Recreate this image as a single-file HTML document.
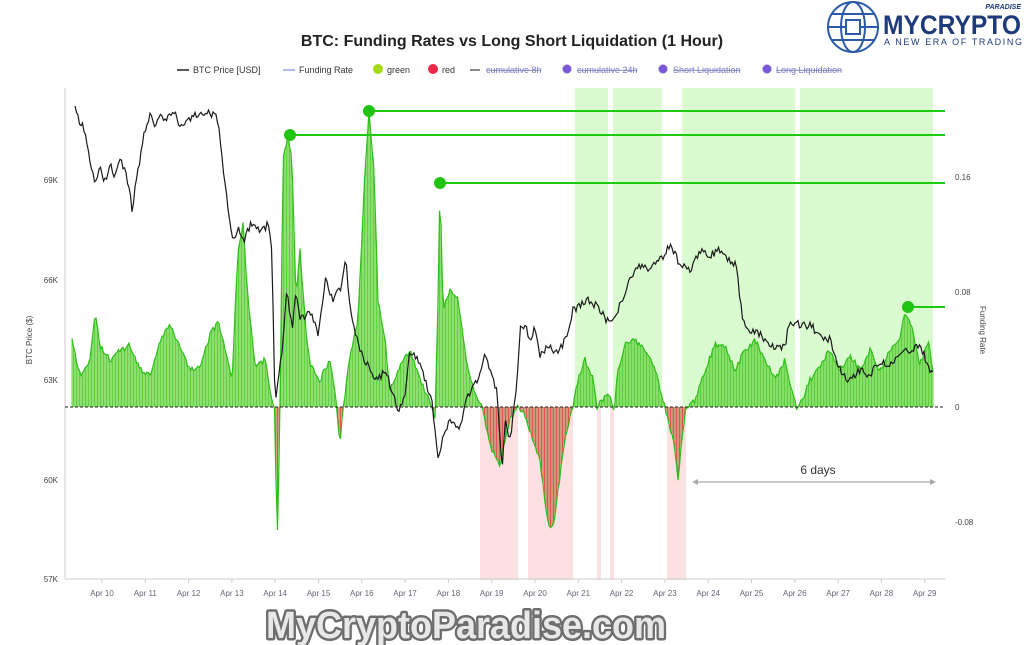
<!DOCTYPE html>
<html><head><meta charset="utf-8"><style>
html,body{margin:0;padding:0;background:#fff;width:1024px;height:645px;overflow:hidden}
svg{display:block;font-family:"Liberation Sans",Arial,sans-serif}
</style></head><body>
<svg id="s" width="1024" height="645" viewBox="0 0 1024 645" xmlns="http://www.w3.org/2000/svg">
<rect width="1024" height="645" fill="#fff"/>
<g id="shade">
<rect x="575" y="88" width="33" height="319" fill="#d9fbcf"/>
<rect x="613" y="88" width="49" height="319" fill="#d9fbcf"/>
<rect x="682" y="88" width="113" height="319" fill="#d9fbcf"/>
<rect x="800" y="88" width="133" height="319" fill="#d9fbcf"/>
<rect x="480" y="407" width="38" height="173" fill="#fde0e2"/>
<rect x="528" y="407" width="45" height="173" fill="#fde0e2"/>
<rect x="597" y="407" width="4" height="173" fill="#fde0e2"/>
<rect x="610" y="407" width="4" height="173" fill="#fde0e2"/>
<rect x="667" y="407" width="19" height="173" fill="#fde0e2"/>
</g>
<line x1="65" y1="88" x2="65" y2="579" stroke="#ccc" stroke-width="1"/>
<line x1="65" y1="579" x2="945" y2="579" stroke="#ccc" stroke-width="1"/>
<g id="bars"></g>
<path id="fr" fill="none" stroke="#2fbf1a" stroke-width="1.2"/>
<line x1="65" y1="407" x2="945" y2="407" stroke="#222" stroke-width="1" stroke-dasharray="3,2"/>
<path id="pr" fill="none" stroke="#1a1a1a" stroke-width="1.2"/>
<g stroke="#1ecb12" stroke-width="2">
<line x1="290" y1="135" x2="945" y2="135"/><line x1="369" y1="111" x2="945" y2="111"/>
<line x1="440" y1="183" x2="945" y2="183"/><line x1="908" y1="307" x2="945" y2="307"/>
</g>
<g fill="#22c414"><circle cx="290" cy="135" r="6"/><circle cx="369" cy="111" r="6"/><circle cx="440" cy="183" r="6"/><circle cx="908" cy="307" r="6"/></g>
<g stroke="#aaa" stroke-width="1.2" fill="#aaa">
<line x1="694" y1="482" x2="934" y2="482"/>
<path d="M692 482 l6 -3 v6z M936 482 l-6 -3 v6z" stroke="none"/>
</g>
<text x="818" y="474" font-size="12" fill="#333" text-anchor="middle">6 days</text>
<g font-size="8" fill="#444" text-anchor="end">
<text x="58" y="183">69K</text><text x="58" y="283">66K</text><text x="58" y="383">63K</text><text x="58" y="483">60K</text><text x="58" y="582">57K</text>
</g>
<g font-size="8" fill="#444">
<text x="955" y="180">0.16</text><text x="955" y="295">0.08</text><text x="955" y="410">0</text><text x="955" y="525">-0.08</text>
</g>
<text transform="translate(32,340) rotate(-90)" font-size="8" fill="#444" text-anchor="middle">BTC Price ($)</text>
<text transform="translate(980,330) rotate(90)" font-size="8" fill="#444" text-anchor="middle">Funding Rate</text>
<g id="dates" font-size="8" fill="#667" text-anchor="middle"></g>
<text x="512" y="46" font-size="16" font-weight="bold" fill="#222" text-anchor="middle">BTC: Funding Rates vs Long Short Liquidation (1 Hour)</text>
<g font-size="9" fill="#333">
<line x1="177" y1="70" x2="189" y2="70" stroke="#222" stroke-width="1.5"/><text x="193" y="73">BTC Price [USD]</text>
<line x1="283" y1="70" x2="295" y2="70" stroke="#99a3e0" stroke-width="1.5"/><text x="299" y="73">Funding Rate</text>
<circle cx="378" cy="69" r="5" fill="#a6d916"/><text x="387" y="73">green</text>
<circle cx="433" cy="69" r="5" fill="#f0284a"/><text x="442" y="73">red</text>
<line x1="470" y1="70" x2="480" y2="70" stroke="#666" stroke-width="1.5"/><text x="486" y="73" fill="#7b7fc4" text-decoration="line-through">cumulative 8h</text>
<circle cx="567" cy="69" r="4.5" fill="#7b58d6"/><text x="577" y="73" fill="#7b7fc4" text-decoration="line-through">cumulative 24h</text>
<circle cx="663" cy="69" r="4.5" fill="#7b58d6"/><text x="673" y="73" fill="#7b7fc4" text-decoration="line-through">Short Liquidation</text>
<circle cx="767" cy="69" r="4.5" fill="#7b58d6"/><text x="776" y="73" fill="#7b7fc4" text-decoration="line-through">Long Liquidation</text>
</g>
<g stroke="#2b5aa8" fill="none" stroke-width="2">
<circle cx="853" cy="27" r="25"/><ellipse cx="853" cy="27" rx="12" ry="25"/><line x1="828" y1="27" x2="878" y2="27"/><line x1="832" y1="14" x2="874" y2="14"/><line x1="832" y1="40" x2="874" y2="40"/><rect x="846" y="20" width="14" height="14" fill="#fff"/>
</g>
<text x="883" y="34" font-size="27" font-weight="bold" fill="#1f3a7a" textLength="138" lengthAdjust="spacingAndGlyphs">MYCRYPTO</text>
<text x="1021" y="9" font-size="7" font-weight="bold" font-style="italic" fill="#1f3a7a" text-anchor="end">PARADISE</text>
<text x="884" y="45" font-size="9" fill="#1f3a7a" textLength="138" lengthAdjust="spacing">A NEW ERA OF TRADING</text>
<text x="466" y="638" font-size="38" font-weight="bold" fill="#e8e8e8" stroke="#6e6e6e" stroke-width="5" paint-order="stroke" stroke-linejoin="round" text-anchor="middle" textLength="400" lengthAdjust="spacingAndGlyphs">MyCryptoParadise.com</text>
</svg>
<script>
var F=[[72,340],[80,375],[90,360],[95,315],[100,345],[110,360],[120,350],[130,345],[140,370],[150,375],[160,340],[170,325],[180,345],[190,370],[200,365],[210,335],[218,322],[225,350],[232,380],[238,250],[243,225],[248,300],[255,365],[265,360],[272,400],[275,410],[277,555],[280,410],[283,160],[288,135],[292,160],[296,300],[300,250],[306,330],[310,365],[320,380],[330,360],[337,410],[340,445],[343,410],[350,355],[358,320],[364,190],[369,110],[374,170],[378,300],[385,340],[390,390],[400,365],[410,350],[420,380],[430,400],[435,420],[438,300],[440,182],[443,310],[450,290],[458,300],[465,350],[470,380],[478,400],[482,407],[490,445],[500,465],[505,440],[510,420],[518,407],[525,415],[530,430],[540,460],[548,525],[553,530],[558,490],[565,440],[572,410],[578,380],[585,360],[592,375],[597,407],[602,400],[610,395],[614,410],[618,370],[625,345],[635,340],[645,350],[655,370],[662,395],[668,420],[675,450],[678,480],[682,440],[686,407],[695,400],[705,370],[715,345],[725,345],[735,370],[745,350],[755,340],[765,360],[775,380],[785,360],[792,390],[796,407],[800,405],[810,380],[820,365],[830,350],[840,370],[850,355],[860,370],[870,350],[880,370],[890,350],[900,340],[905,312],[910,320],[920,365],[928,340],[933,370]];
var P=[[75,108],[80,122],[85,130],[90,160],[95,185],[100,170],[105,180],[110,165],[115,175],[120,160],[125,170],[130,190],[132,215],[135,185],[140,160],[145,130],[150,115],[155,125],[160,112],[165,120],[175,112],[180,125],[190,118],[200,112],[210,112],[218,120],[222,160],[228,210],[232,240],[238,230],[245,240],[250,225],[260,230],[268,225],[272,250],[275,405],[278,380],[282,350],[287,290],[292,330],[296,290],[300,320],[310,310],[318,335],[325,280],[333,300],[340,290],[346,260],[350,310],[360,350],[370,370],[378,380],[385,370],[392,390],[398,410],[405,395],[410,350],[418,360],[425,380],[432,400],[438,460],[442,440],[450,420],[460,430],[467,395],[472,390],[478,380],[485,355],[490,370],[497,390],[502,470],[505,420],[510,440],[515,400],[518,370],[520,330],[525,325],[530,340],[535,325],[540,355],[548,345],[555,355],[562,345],[568,335],[573,310],[580,305],[590,300],[600,310],[610,325],[620,305],[630,280],[640,265],[650,270],[660,260],[670,245],[680,265],[690,270],[700,250],[710,255],[720,250],[730,260],[737,265],[740,300],[745,330],[755,330],[765,340],[775,350],[785,345],[790,320],[800,325],[810,325],[820,335],[830,340],[840,370],[848,380],[860,370],[870,375],[880,360],[890,365],[900,355],[910,350],[920,345],[928,365],[933,375]];
function interp(A,x){for(var i=1;i<A.length;i++){if(x<=A[i][0]){var a=A[i-1],b=A[i];return a[1]+(b[1]-a[1])*(x-a[0])/(b[0]-a[0]);}}return A[A.length-1][1];}
function jit(A,amp,step){var out=[],s=1;for(var x=A[0][0];x<=A[A.length-1][0];x+=step){s=(s*9301+49297)%233280;var y=interp(A,x)+(s/233280-0.5)*amp;out.push([x,y]);}return out;}
var ns="http://www.w3.org/2000/svg";
var fj=jit(F,6,1.5),pj=jit(P,8,1.5);
var d="",b=document.getElementById("bars"),area="";
fj.forEach(function(p,i){d+=(i?"L":"M")+p[0].toFixed(1)+" "+p[1].toFixed(1);
var l=document.createElementNS(ns,"line");l.setAttribute("x1",p[0]);l.setAttribute("x2",p[0]);l.setAttribute("y1",407);l.setAttribute("y2",p[1]);
l.setAttribute("stroke",p[1]<407?"#4cc82a":"#e8304a");l.setAttribute("stroke-width",0.8);b.appendChild(l);});
var ar=document.createElementNS(ns,"path");ar.setAttribute("d","M"+fj[0][0]+" 407"+d.replace(/^M/,"L")+"L"+fj[fj.length-1][0]+" 407Z");
ar.setAttribute("fill","#9be57c");ar.setAttribute("opacity","0.7");b.insertBefore(ar,b.firstChild);
var rd=document.createElementNS(ns,"path");rd.setAttribute("d","M"+fj[0][0]+" 407"+d.replace(/^M/,"L")+"L"+fj[fj.length-1][0]+" 407Z");
document.getElementById("fr").setAttribute("d",d);
var pd="";pj.forEach(function(p,i){pd+=(i?"L":"M")+p[0].toFixed(1)+" "+p[1].toFixed(1);});
document.getElementById("pr").setAttribute("d",pd);
var g=document.getElementById("dates");
for(var k=0;k<20;k++){var t=document.createElementNS(ns,"text");t.setAttribute("x",(102+k*43.3).toFixed(1));t.setAttribute("y",596);t.textContent="Apr "+(10+k);g.appendChild(t);
var tk=document.createElementNS(ns,"line");tk.setAttribute("x1",(102+k*43.3));tk.setAttribute("x2",(102+k*43.3));tk.setAttribute("y1",579);tk.setAttribute("y2",583);tk.setAttribute("stroke","#ccc");g.appendChild(tk);}
</script>
</body></html>
